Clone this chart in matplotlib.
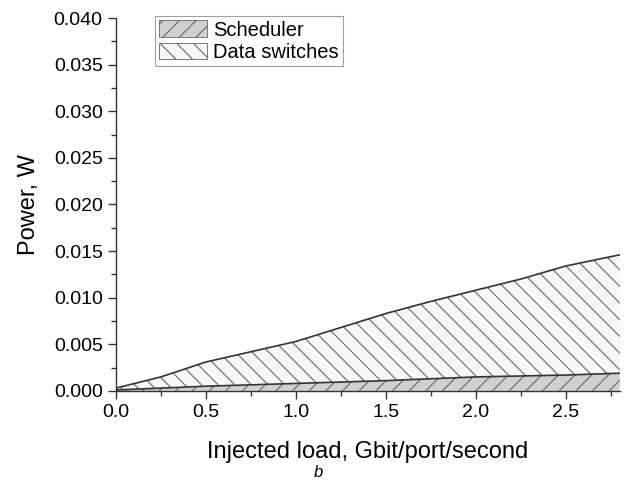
import matplotlib
matplotlib.use("Agg")
import matplotlib.pyplot as plt
from matplotlib.ticker import MultipleLocator, FormatStrFormatter
from matplotlib.patches import Patch

plt.rcParams['font.family'] = ['Liberation Sans', 'DejaVu Sans']
plt.rcParams['hatch.linewidth'] = 0.8

load = [0.0, 0.25, 0.5, 0.75, 1.0, 1.25, 1.5, 1.75, 2.0, 2.25, 2.5, 2.8]
scheduler = [0.0001, 0.0003, 0.0005, 0.00065, 0.0008, 0.00095, 0.0011, 0.0013, 0.0015, 0.0016, 0.0017, 0.0019]
total = [0.0003, 0.0015, 0.0031, 0.0042, 0.0053, 0.0068, 0.0083, 0.0096, 0.0108, 0.0120, 0.0134, 0.0146]

fig = plt.figure(figsize=(6.37, 4.88), dpi=100)
ax = fig.add_axes([0.182, 0.199, 0.791, 0.764])

hatch_col = '#666666'
line_col = '#333333'
ax.fill_between(load, 0, scheduler, facecolor='#d0d0d0', edgecolor=hatch_col, hatch='//', linewidth=0)
ax.fill_between(load, scheduler, total, facecolor='#f8f8f8', edgecolor=hatch_col, hatch='\\\\', linewidth=0)
ax.plot(load, scheduler, color=line_col, linewidth=1.2)
ax.plot(load, total, color=line_col, linewidth=1.2)

ax.set_xlim(0, 2.8)
ax.set_ylim(0, 0.040)
ax.xaxis.set_major_locator(MultipleLocator(0.5))
ax.xaxis.set_minor_locator(MultipleLocator(0.25))
ax.yaxis.set_major_locator(MultipleLocator(0.005))
ax.yaxis.set_minor_locator(MultipleLocator(0.0025))
ax.xaxis.set_major_formatter(FormatStrFormatter('%.1f'))
ax.yaxis.set_major_formatter(FormatStrFormatter('%.3f'))

for s in ['top', 'right']:
    ax.spines[s].set_visible(False)
for s in ['left', 'bottom']:
    ax.spines[s].set_linewidth(1.0)
    ax.spines[s].set_color('#333333')
ax.tick_params(which='major', direction='out', length=6, width=1.0, labelsize=14, color='#333333')
ax.tick_params(which='minor', direction='out', length=3.5, width=1.0, color='#333333')

ax.set_xlabel('Injected load, Gbit/port/second', fontsize=17, labelpad=14)
ax.set_ylabel('Power, W', fontsize=17, labelpad=10)

handles = [Patch(facecolor='#d0d0d0', edgecolor=hatch_col, hatch='//', linewidth=0.6, label='Scheduler'),
           Patch(facecolor='#f8f8f8', edgecolor=hatch_col, hatch='\\\\', linewidth=0.6, label='Data switches')]
leg = ax.legend(handles=handles, loc='upper left', bbox_to_anchor=(0.077, 1.005), fontsize=14.5, frameon=True,
                fancybox=False, edgecolor='#888888', handlelength=2.4, handleheight=0.9,
                borderpad=0.2, labelspacing=0.15, handletextpad=0.3, borderaxespad=0.0)
leg.get_frame().set_linewidth(0.8)

fig.text(0.5, 0.022, 'b', fontsize=12, style='italic', ha='center')

fig.savefig('out.png', dpi=100)
